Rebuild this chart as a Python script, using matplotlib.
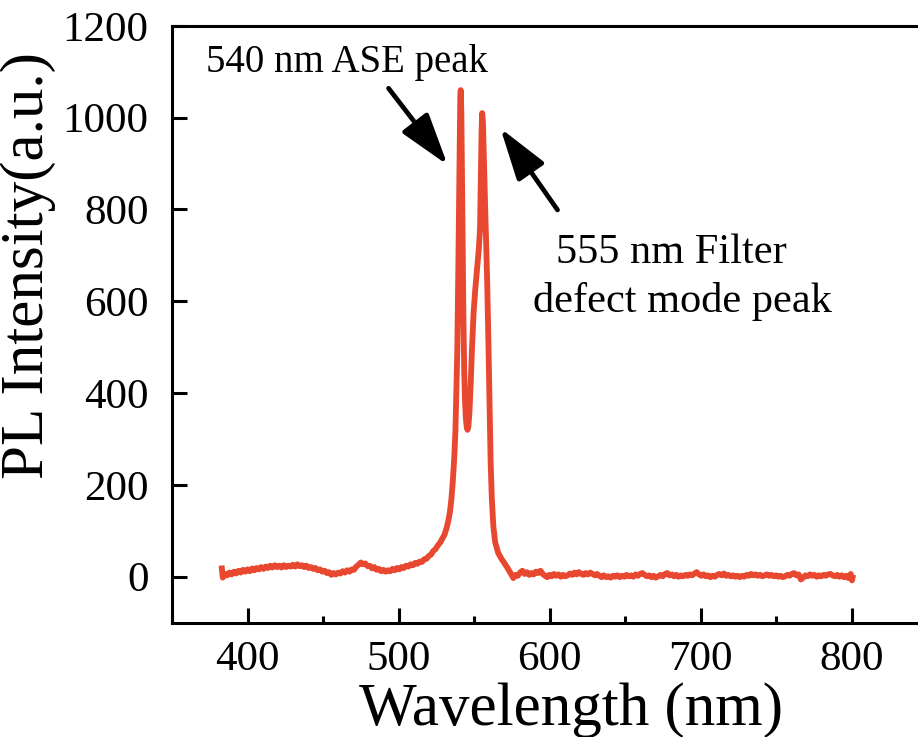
import matplotlib
matplotlib.use("Agg")
import matplotlib.pyplot as plt
from matplotlib.ticker import MultipleLocator

plt.rcParams["font.family"] = ["Liberation Serif", "DejaVu Serif"]

# PL spectrum (wavelength in nm, intensity in a.u.)
wavelength = [
    383.0, 383.6, 385.0, 386.5, 388.0, 389.5, 391.0, 392.5, 394.0, 395.5,
    397.0, 398.5, 400.0, 401.5, 403.0, 404.5, 406.0, 407.5, 409.0, 410.5,
    412.0, 413.5, 415.0, 416.5, 418.0, 419.5, 421.0, 422.5, 424.0, 425.5,
    427.0, 428.5, 430.0, 431.5, 433.0, 434.5, 436.0, 437.5, 439.0, 440.5,
    442.0, 443.5, 445.0, 446.5, 448.0, 449.5, 451.0, 452.5, 454.0, 455.5,
    457.0, 458.5, 460.0, 461.5, 463.0, 464.5, 466.0, 467.5, 469.0, 470.5,
    472.0, 473.5, 475.0, 476.5, 478.0, 479.5, 481.0, 482.5, 484.0, 485.5,
    487.0, 488.5, 490.0, 491.5, 493.0, 494.5, 496.0, 497.5, 499.0, 500.5,
    502.0, 503.5, 505.0, 506.5, 508.0, 509.5, 511.0, 512.5, 514.0, 515.5,
    517.0, 518.5, 520.0, 521.5, 523.0, 524.5, 526.0, 527.5, 529.0, 530.5,
    532.0, 533.0, 534.0, 535.0, 536.0, 537.0, 537.7, 538.3, 538.9, 539.5,
    540.0, 540.5, 540.9, 541.2, 541.6, 542.0, 542.5, 543.0, 543.5, 544.0,
    544.6, 545.2, 545.7, 546.3, 547.0, 547.8, 548.7, 549.7, 550.8, 552.0,
    553.2, 554.0, 554.6, 555.0, 555.4, 555.9, 556.6, 557.5, 558.7, 559.6,
    560.4, 561.0, 561.8, 562.8, 564.0, 566.0, 568.0, 570.0, 572.0, 574.0,
    576.0, 577.5, 579.0, 580.5, 582.0, 583.5, 585.0, 586.5, 588.0, 589.5,
    591.0, 592.5, 594.0, 595.5, 597.0, 598.5, 600.0, 601.5, 603.0, 604.5,
    606.0, 607.5, 609.0, 610.5, 612.0, 613.5, 615.0, 616.5, 618.0, 619.5,
    621.0, 622.5, 624.0, 625.5, 627.0, 628.5, 630.0, 631.5, 633.0, 634.5,
    636.0, 637.5, 639.0, 640.5, 642.0, 643.5, 645.0, 646.5, 648.0, 649.5,
    651.0, 652.5, 654.0, 655.5, 657.0, 658.5, 660.0, 661.5, 663.0, 664.5,
    666.0, 667.5, 669.0, 670.5, 672.0, 673.5, 675.0, 676.5, 678.0, 679.5,
    681.0, 682.5, 684.0, 685.5, 687.0, 688.5, 690.0, 691.5, 693.0, 694.5,
    696.0, 697.5, 699.0, 700.5, 702.0, 703.5, 705.0, 706.5, 708.0, 709.5,
    711.0, 712.5, 714.0, 715.5, 717.0, 718.5, 720.0, 721.5, 723.0, 724.5,
    726.0, 727.5, 729.0, 730.5, 732.0, 733.5, 735.0, 736.5, 738.0, 739.5,
    741.0, 742.5, 744.0, 745.5, 747.0, 748.5, 750.0, 751.5, 753.0, 754.5,
    756.0, 757.5, 759.0, 760.5, 762.0, 763.5, 765.0, 766.5, 768.0, 769.5,
    771.0, 772.5, 774.0, 775.5, 777.0, 778.5, 780.0, 781.5, 783.0, 784.5,
    786.0, 787.5, 789.0, 790.5, 792.0, 793.5, 795.0, 796.5, 798.0, 799.5,
    800.3, 800.7,
]
intensity = [
    18, -2, 6, 3, 9, 5, 11, 7, 13, 9,
    15, 11, 16, 12, 18, 14, 19, 16, 21, 17,
    22, 19, 24, 20, 25, 21, 24, 20, 25, 21,
    24, 22, 26, 22, 27, 23, 25, 21, 24, 19,
    21, 17, 19, 14, 16, 11, 13, 8, 10, 4,
    8, 5, 9, 7, 12, 9, 14, 11, 16, 15,
    22, 26, 31, 27, 29, 23, 24, 18, 21, 15,
    17, 12, 15, 11, 14, 12, 17, 14, 19, 16,
    21, 19, 24, 22, 27, 25, 30, 28, 33, 32,
    38, 39, 45, 48, 56, 60, 68, 74, 83, 92,
    108, 122, 140, 168, 210, 265, 320, 410, 490, 640,
    790, 950, 1045, 1060, 1010, 880, 700, 560, 450, 385,
    345, 325, 320, 328, 360, 420, 500, 574, 625, 670,
    715, 760, 880, 970, 1010, 990, 900, 790, 646, 500,
    350, 250, 170, 110, 75, 52, 40, 30, 20, 9,
    -3, 4, 2, 9, 13, 6, 10, 4, 8, 5,
    11, 8, 13, 6, 2, -1, 4, 1, 6, 2,
    5, 0, 4, 1, 3, 7, 4, 9, 5, 10,
    6, 4, 8, 5, 9, 6, 3, 6, 2, -1,
    3, -1, 1, -2, 2, 0, 3, -1, 2, 0,
    4, 1, 3, 0, 5, 2, 6, 8, 4, 1,
    3, -1, 2, -2, 1, 4, 1, 6, 8, 3,
    5, 1, 4, 0, 3, 1, 4, 2, 5, 3,
    7, 10, 5, 2, 5, 1, 3, -1, 2, 0,
    4, 6, 3, 7, 2, 4, 1, 3, 0, 2,
    -1, 2, 0, 4, 2, 6, 3, 5, 2, 4,
    1, 3, 5, 2, 4, 1, 3, 0, 2, -1,
    1, 4, 2, 6, 8, 3, 5, -6, -2, 3,
    1, 5, 2, 4, 0, 3, 1, 4, 2, 5,
    6, 3, 1, 4, 0, 3, -1, 2, -3, 6,
    -8, -2,
]

x_ticks = [400, 500, 600, 700, 800]
y_ticks = [0, 200, 400, 600, 800, 1000, 1200]

ase_label = "540 nm ASE peak"
defect_lines = ["555 nm Filter", "defect mode peak"]

W, H = 918, 737
fig = plt.figure(figsize=(W / 100, H / 100), dpi=100)
ax = fig.add_axes([0.1874, 0.1552, 0.8224, 0.8097])

ax.plot(wavelength, intensity, color="#E8482F", lw=4.2, solid_joinstyle="round")

ax.set_xlim(350, 850)
ax.set_ylim(-100, 1200)
ax.set_xticks(x_ticks)
ax.set_yticks(y_ticks)
ax.xaxis.set_minor_locator(MultipleLocator(50))

for side in ("top", "bottom", "left", "right"):
    ax.spines[side].set_linewidth(2.2)
ax.tick_params(which="both", direction="in", top=False, right=False, width=2.2)
ax.tick_params(which="major", length=10.8)
ax.tick_params(which="minor", length=5)
ax.tick_params(axis="x", labelsize=31, pad=13)
ax.tick_params(axis="y", labelsize=31, pad=17)

# axis titles placed in figure pixels, a little off the axes centre
fig.text(571 / W, 1 - 725 / H, "Wavelength (nm)", fontsize=44,
         ha="center", va="baseline")
fig.text(0.5 / W, 1 - 266 / H, "PL Intensity(a.u.)", fontsize=44,
         rotation=90, ha="left", va="center")

arrow = dict(arrowstyle="-|>,head_length=1.6,head_width=0.5", lw=3.4,
             color="black", mutation_scale=20, shrinkA=0, shrinkB=0)
ax.annotate("", xy=(532.5, 897), xytext=(493.4, 1064), arrowprops=arrow)
ax.annotate("", xy=(567.5, 977), xytext=(605.3, 799), arrowprops=arrow)

ax.text(465.6, 1121, ase_label, fontsize=28, ha="center", va="center")
ax.text(681, 684, defect_lines[0], fontsize=30.5, ha="center", va="baseline")
ax.text(688, 577, defect_lines[1], fontsize=30.5, ha="center", va="baseline")

fig.savefig("out.png", dpi=100)
